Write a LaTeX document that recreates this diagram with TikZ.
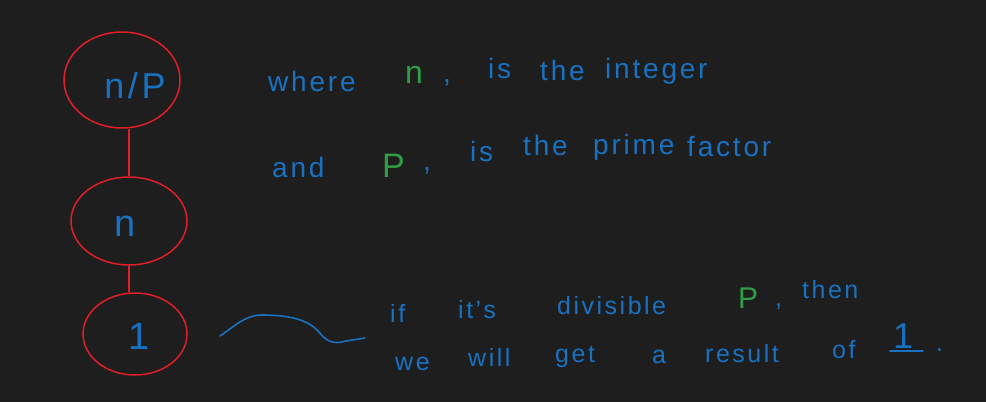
\documentclass[tikz,border=0pt]{standalone}
\usepackage{fontspec}
\setmainfont{Liberation Sans}[LetterSpace=10]
\usetikzlibrary{shapes.geometric}
\definecolor{bg}{RGB}{30,30,30}
\definecolor{inkred}{RGB}{224,30,40}
\definecolor{inkblue}{RGB}{25,113,194}
\definecolor{inkgreen}{RGB}{47,158,68}
\begin{document}
\begin{tikzpicture}[x=1pt,y=-1pt,
  blob/.style={draw=inkred, line width=1.5pt, ellipse, inner sep=0pt},
  link/.style={draw=inkred, line width=1.5pt},
  inlabel/.style={text=inkblue, inner sep=0pt, font=\fontsize{36}{38}\selectfont},
  bigword/.style={text=inkblue, anchor=base west, inner sep=0pt, font=\fontsize{28}{30}\selectfont},
  smallword/.style={text=inkblue, anchor=base west, inner sep=0pt, font=\fontsize{25}{27}\selectfont},
  hl/.style={text=inkgreen},
  squiggle/.style={draw=inkblue, line width=1.6pt, line cap=round}]
\fill[bg] (0,0) rectangle (986,402);
\useasboundingbox (0,0) rectangle (986,402);

% circles
\node[blob, minimum width=116pt, minimum height=96pt] (c1) at (122,80) {};
\node[blob, minimum width=116pt, minimum height=88pt] (c2) at (129,221) {};
\node[blob, minimum width=104pt, minimum height=82pt] (c3) at (135,334) {};
\node[inlabel] (t1) at (135,86) {n/P};
\node[inlabel, font=\fontsize{38}{40}\selectfont] (t2) at (125,226) {n};
\node[inlabel, font=\fontsize{38}{40}\selectfont] (t3) at (139,336) {1};

\draw[link] (c2.north |- c1.south) -- (c2.north);
\draw[link] (c2.south) -- (c2.south |- c3.north);

% line 1
\node[bigword] (w1) at (268,91) {where};
\node[bigword, hl, font=\fontsize{32}{34}\selectfont] (w2) at (405,83) {n};
\node[bigword] (w3) at (443,82) {,};
\node[bigword] (w4) at (488,78) {is};
\node[bigword] (w5) at (540,80) {the};
\node[bigword] (w6) at (605,78) {integer};

% line 2
\node[bigword] (v1) at (272,177) {and};
\node[bigword, hl, font=\fontsize{34}{36}\selectfont] (v2) at (382,177) {P};
\node[bigword] (v3) at (423,170) {,};
\node[bigword] (v4) at (470,161) {is};
\node[bigword] (v5) at (523,155) {the};
\node[bigword] (v6) at (593,154) {prime};
\node[bigword] (v7) at (687,156) {factor};

% squiggle
\coordinate (s0) at (220,336);
\coordinate (s1) at (365,338);
\draw[squiggle] (s0) .. controls (235,326) and (245,315) .. (262,315)
  .. controls (290,315) and (308,320) .. (318,331)
  .. controls (326,341) and (333,345) .. (346,341) -- (s1);

% line 3
\node[smallword] (u1) at (390,322) {if};
\node[smallword] (u2) at (458,318) {it’s};
\node[smallword] (u3) at (557,314) {divisible};
\node[smallword, hl, font=\fontsize{30}{32}\selectfont] (u4) at (738,308) {P};
\node[smallword] (u5) at (775,306) {,};
\node[smallword] (u6) at (802,298) {then};

% line 4
\node[smallword] (r1) at (395,370) {we};
\node[smallword] (r2) at (468,366) {will};
\node[smallword] (r3) at (555,362) {get};
\node[smallword] (r4) at (652,363) {a};
\node[smallword] (r5) at (705,362) {result};
\node[smallword] (r6) at (832,358) {of};
\node[smallword, font=\fontsize{36}{38}\selectfont] (r7) at (893,348) {1};
\draw[inkblue, line width=1.6pt, line cap=round] ([xshift=-3pt,yshift=-3pt]r7.base west) -- ([xshift=30pt,yshift=-3pt]r7.base west);
\node[smallword] (r8) at (936,351) {.};
\end{tikzpicture}
\end{document}
